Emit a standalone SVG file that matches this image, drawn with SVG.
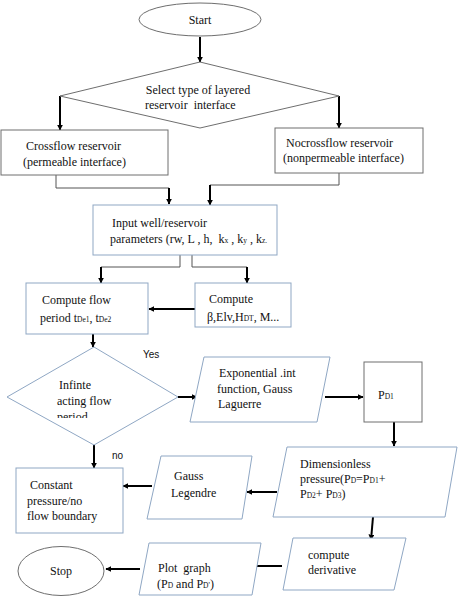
<svg xmlns="http://www.w3.org/2000/svg" width="474" height="605" viewBox="0 0 474 605">
<defs>
<marker id="ah" viewBox="0 0 10 10" refX="9" refY="5" markerWidth="6" markerHeight="6" orient="auto" markerUnits="userSpaceOnUse">
<path d="M0,0 L10,5 L0,10 z" fill="#000"/>
</marker>
<clipPath id="clipP"><rect x="0" y="340" width="200" height="78"/></clipPath>
</defs>
<style>
.g{fill:#fff;stroke:#6e6e6e;stroke-width:1}
.b{fill:#fff;stroke:#8fa7c4;stroke-width:1}
.t{font-family:"Liberation Serif","DejaVu Serif",serif;font-size:12px;fill:#111}
.s{font-size:7.5px}
.l{font-family:"Liberation Sans","DejaVu Sans",sans-serif;font-size:10px;fill:#111}
.a{stroke:#000;stroke-width:2;fill:none;marker-end:url(#ah)}
.w{stroke:#555;stroke-width:1;fill:none}
</style>
<rect width="474" height="605" fill="#fff"/>
<g id="connectors">
<path class="a" d="M200,37 V62"/>
<path class="a" d="M60,96 V130"/>
<path class="a" d="M339,96 V128"/>
<path class="w" d="M56,175 V188 H169"/>
<path class="a" d="M169,188 V204"/>
<path class="w" d="M339,173 V185 H210"/>
<path class="a" d="M210,185 V205"/>
<path class="w" d="M180,255 V267 H101"/>
<path class="a" d="M101,267 V283"/>
<path class="w" d="M192,255 V267 H247"/>
<path class="a" d="M247,267 V283"/>
<path class="a" d="M195,309 H149"/>
<path class="a" d="M93,334 V347"/>
<path class="a" d="M178,397 H197"/>
<path class="a" d="M325,397 H363"/>
<path class="a" d="M394,422 V446"/>
<path class="a" d="M94,445 V468"/>
<path class="a" d="M277,492 H247"/>
<path class="a" d="M152,486 H123"/>
<path class="a" d="M373,517 L371,540"/>
<path class="a" d="M282,566 H250"/>
<path class="a" d="M140,569 H106"/>
<text class="l" x="143" y="358">Yes</text>
<text class="l" x="112" y="459">no</text>
</g>
<g id="start">
<ellipse class="g" cx="200" cy="19.5" rx="61" ry="16.5"/>
<text class="t" x="200" y="24" text-anchor="middle">Start</text>
</g>
<g id="select">
<polygon class="g" points="200,62 339,96 200,128 60,96"/>
<text class="t" x="198" y="94" text-anchor="middle">Select type of layered</text>
<text class="t" x="145" y="109" xml:space="preserve">reservoir  interface</text>
</g>
<g id="crossflow">
<rect class="g" x="1" y="130" width="167" height="45"/>
<text class="t" x="26" y="150">Crossflow reservoir</text>
<text class="t" x="23" y="166">(permeable interface)</text>
</g>
<g id="nocrossflow">
<rect class="g" x="275" y="128" width="148" height="45"/>
<text class="t" x="286" y="147">Nocrossflow reservoir</text>
<text class="t" x="283" y="162">(nonpermeable interface)</text>
</g>
<g id="input">
<rect class="b" x="93" y="205" width="184" height="50"/>
<text class="t" x="112" y="227">Input well/reservoir</text>
<text class="t" x="110" y="243" xml:space="preserve">parameters (rw, L , h,  k<tspan class="s">x</tspan> , k<tspan class="s">y</tspan> , k<tspan class="s">z.</tspan></text>
</g>
<g id="computeflow">
<rect class="b" x="26" y="283" width="122" height="51"/>
<text class="t" x="42" y="304" font-size="13">Compute flow</text>
<text class="t" x="40" y="322" font-size="13">period t<tspan class="s" font-size="8">De1</tspan>, t<tspan class="s" font-size="8">De2</tspan></text>
</g>
<g id="computebeta">
<rect class="b" x="195" y="283" width="96" height="44"/>
<text class="t" x="209" y="303">Compute</text>
<text class="t" x="207" y="321">β,Elv,H<tspan class="s">DT</tspan>, M...</text>
</g>
<g id="infinite">
<polygon class="b" points="94,347 178,397 94,445 7,397"/>
<g clip-path="url(#clipP)">
<text class="t" x="59" y="389" font-size="13">Infinte</text>
<text class="t" x="57" y="405" font-size="13">acting flow</text>
<text class="t" x="57" y="421" font-size="13">period</text>
</g>
</g>
<g id="exponential">
<polygon class="b" points="204,357 330,357 317,422 190,422"/>
<text class="t" x="219" y="377">Exponential .int</text>
<text class="t" x="217" y="393">function, Gauss</text>
<text class="t" x="218" y="408">Laguerre</text>
</g>
<g id="pd1">
<rect class="g" x="364" y="362" width="58" height="60"/>
<text class="t" x="378" y="399">P<tspan class="s">D1</tspan></text>
</g>
<g id="dimensionless">
<polygon class="b" points="287,447 457,447 445,517 273,517"/>
<text class="t" x="300" y="468">Dimensionless</text>
<text class="t" x="300" y="483">pressure(P<tspan class="s">D</tspan>=P<tspan class="s">D1</tspan>+</text>
<text class="t" x="300" y="498">P<tspan class="s">D2</tspan>+ P<tspan class="s">D3</tspan>)</text>
</g>
<g id="gauss">
<polygon class="b" points="161,456 252,456 242,519 147,519"/>
<text class="t" x="174" y="480">Gauss</text>
<text class="t" x="171" y="497">Legendre</text>
</g>
<g id="constant">
<rect class="b" x="16" y="468" width="107" height="65"/>
<text class="t" x="30" y="489">Constant</text>
<text class="t" x="27" y="505">pressure/no</text>
<text class="t" x="27" y="520">flow boundary</text>
</g>
<g id="derivative">
<polygon class="b" points="293,538 406,538 394,590 283,590"/>
<text class="t" x="308" y="559">compute</text>
<text class="t" x="308" y="574">derivative</text>
</g>
<g id="plot">
<polygon class="b" points="149,543 261,543 252,595 139,595"/>
<text class="t" x="158" y="572" xml:space="preserve">Plot  graph</text>
<text class="t" x="157" y="588">(P<tspan class="s">D</tspan> and P<tspan class="s">D'</tspan>)</text>
</g>
<g id="stop">
<ellipse class="g" cx="61" cy="571" rx="43" ry="24.5"/>
<text class="t" x="61" y="575" text-anchor="middle">Stop</text>
</g>
</svg>
